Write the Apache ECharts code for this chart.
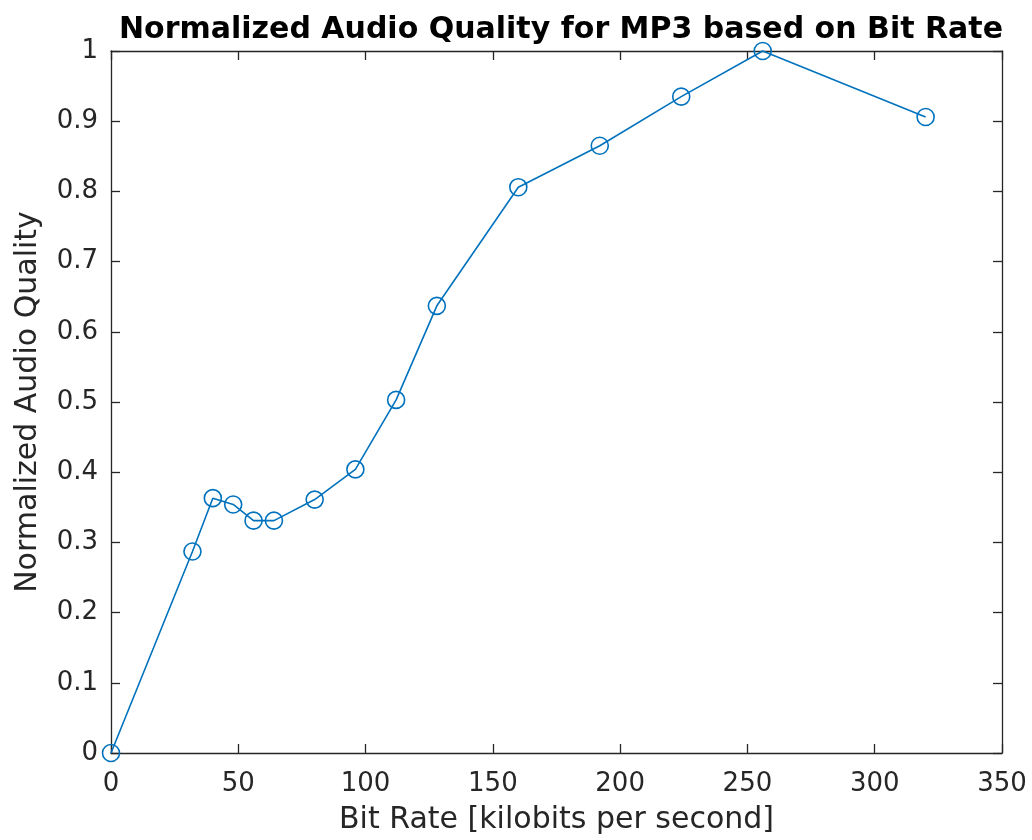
<!DOCTYPE html>
<html><head><meta charset="utf-8">
<script src="https://cdn.jsdelivr.net/npm/echarts@6/dist/echarts.min.js"></script>
<style>html,body{margin:0;padding:0;background:#fff}#c{width:1032px;height:840px}</style>
</head><body><div id="c"></div>
<script>
const bitRates = [0, 32, 40, 48, 56, 64, 80, 96, 112, 128, 160, 192, 224, 256, 320];
const quality = [0, 0.287, 0.363, 0.354, 0.331, 0.331, 0.361, 0.404, 0.503, 0.637, 0.806, 0.865, 0.935, 1.0, 0.906];
const titleText = 'Normalized Audio Quality for MP3 based on Bit Rate';
const xName = 'Bit Rate [kilobits per second]';
const yName = 'Normalized Audio Quality';

const font = 'DejaVu Sans';
const axisCol = '#262626';
const chart = echarts.init(document.getElementById('c'), null, {renderer: 'canvas'});
const common = {
  axisLine: {show: true, onZero: false, lineStyle: {color: axisCol, width: 1.3}},
  axisTick: {show: true, inside: true, length: 9, lineStyle: {color: axisCol, width: 1.3}},
  splitLine: {show: false}
};
chart.setOption({
  animation: false,
  title: {text: titleText, left: 556, textAlign: 'center', top: 10,
    textStyle: {fontFamily: font, fontWeight: 'bold', fontSize: 30, color: '#000'}},
  grid: {left: 111, right: 30, top: 51, bottom: 85, containLabel: false},
  xAxis: [
    Object.assign({type: 'value', min: 0, max: 350, interval: 50, position: 'bottom',
      name: xName, nameLocation: 'middle', nameGap: 52,
      nameTextStyle: {fontFamily: font, fontSize: 30, color: axisCol},
      axisLabel: {fontFamily: font, fontSize: 26, color: axisCol, margin: 18}}, common),
    Object.assign({type: 'value', min: 0, max: 350, interval: 50, position: 'top',
      axisLabel: {show: false}}, common)
  ],
  yAxis: [
    Object.assign({type: 'value', min: 0, max: 1, interval: 0.1, position: 'left',
      name: yName, nameLocation: 'middle', nameGap: 68,
      nameTextStyle: {fontFamily: font, fontSize: 30, color: axisCol},
      axisLabel: {fontFamily: font, fontSize: 26, color: axisCol, margin: 13}}, common),
    Object.assign({type: 'value', min: 0, max: 1, interval: 0.1, position: 'right',
      axisLabel: {show: false}}, common)
  ],
  series: [{
    type: 'line',
    data: bitRates.map((b, i) => [b, quality[i]]),
    clip: false,
    symbol: 'circle', symbolSize: 17, showSymbol: true,
    itemStyle: {color: 'rgba(0,0,0,0)', borderColor: '#0072BD', borderWidth: 1.6},
    lineStyle: {color: '#0072BD', width: 1.6}
  }]
});
</script></body></html>
